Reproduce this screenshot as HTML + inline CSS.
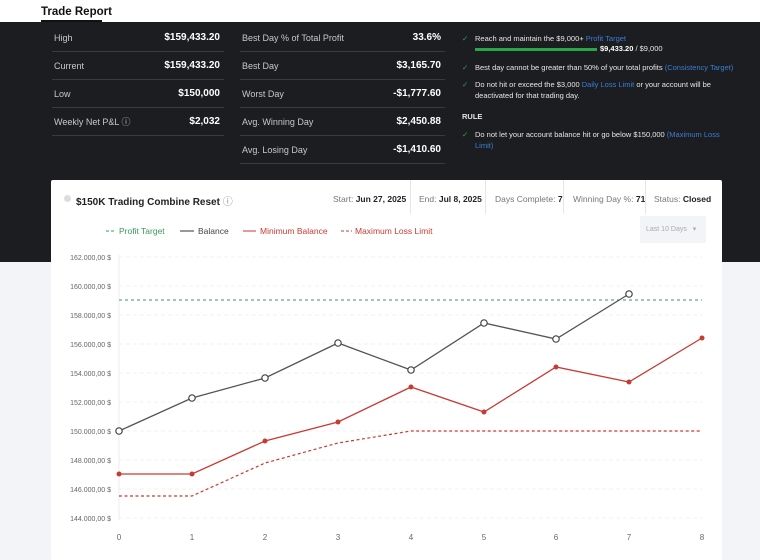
<!DOCTYPE html>
<html><head><style>
*{margin:0;padding:0;box-sizing:border-box}
body{width:760px;height:552px;overflow:hidden;background:#f3f4f8;font-family:"Liberation Sans",sans-serif;position:relative}
.top{position:absolute;left:0;top:0;width:760px;height:22px;background:#fff}
.tab{position:absolute;left:41px;top:6px;font-size:11.5px;font-weight:bold;color:#111}
.tabline{position:absolute;left:41px;top:20px;width:61px;height:2px;background:#111}
.dark{position:absolute;left:0;top:22px;width:760px;height:240px;background:#1c1d20}
.row{position:absolute;height:28px;border-bottom:1px solid #3a3b3f;font-size:9px;color:#c8c8c8;display:flex;align-items:center;justify-content:space-between;padding:0 4px 0 2px}
.row b{color:#fff;font-size:10px}
.r{position:absolute;left:462px;font-size:7.5px;color:#e6e6e6;line-height:11px}
.r i{position:absolute;left:0;font-style:normal;color:#2ea84f}
.r div{margin-left:13px}
.l{color:#3a7ed3}
.card{position:absolute;left:51px;top:180px;width:671px;height:380px;background:#fff;border-radius:2px}
.hd{position:absolute;top:14px;font-size:8.5px;color:#777}
.hd b{color:#222}
.sep{position:absolute;top:0;width:1px;height:34px;background:#e6e6e6}
</style></head><body>
<div class="top"></div><div class="tab">Trade Report</div><div class="tabline"></div>
<div class="dark">
<div class="row" style="left:52px;top:2px;width:172px"><span>High</span><b>$159,433.20</b></div>
<div class="row" style="left:52px;top:30px;width:172px"><span>Current</span><b>$159,433.20</b></div>
<div class="row" style="left:52px;top:58px;width:172px"><span>Low</span><b>$150,000</b></div>
<div class="row" style="left:52px;top:86px;width:172px"><span>Weekly Net P&amp;L ⓘ</span><b>$2,032</b></div>
<div class="row" style="left:240px;top:2px;width:205px"><span>Best Day % of Total Profit</span><b>33.6%</b></div>
<div class="row" style="left:240px;top:30px;width:205px"><span>Best Day</span><b>$3,165.70</b></div>
<div class="row" style="left:240px;top:58px;width:205px"><span>Worst Day</span><b>-$1,777.60</b></div>
<div class="row" style="left:240px;top:86px;width:205px"><span>Avg. Winning Day</span><b>$2,450.88</b></div>
<div class="row" style="left:240px;top:114px;width:205px"><span>Avg. Losing Day</span><b>-$1,410.60</b></div>
<div class="r" style="top:11px"><i>✓</i><div>Reach and maintain the $9,000+ <span class="l">Profit Target</span></div></div>
<div style="position:absolute;left:475px;top:26px;width:122px;height:3px;background:#27a745"></div>
<div class="r" style="top:21px;left:600px;font-size:7.5px"><b style="color:#fff">$9,433.20</b> / $9,000</div>
<div class="r" style="top:40px"><i>✓</i><div>Best day cannot be greater than 50% of your total profits <span class="l">(Consistency Target)</span></div></div>
<div class="r" style="top:57px"><i>✓</i><div>Do not hit or exceed the $3,000 <span class="l">Daily Loss Limit</span> or your account will be<br>deactivated for that trading day.</div></div>
<div class="r" style="top:89px;font-weight:bold">RULE</div>
<div class="r" style="top:107px"><i>✓</i><div>Do not let your account balance hit or go below $150,000 <span class="l">(Maximum Loss<br>Limit)</span></div></div>
</div>
<div class="card">
<div style="position:absolute;left:13px;top:15px;width:7px;height:7px;border-radius:50%;background:#ddd"></div>
<div style="position:absolute;left:25px;top:13px;font-size:10px;font-weight:bold;color:#222">$150K Trading Combine Reset <span style="font-weight:normal;color:#888">ⓘ</span></div>
<div class="hd" style="left:282px">Start: <b>Jun 27, 2025</b></div>
<div class="sep" style="left:359px"></div>
<div class="hd" style="left:368px">End: <b>Jul 8, 2025</b></div>
<div class="sep" style="left:434px"></div>
<div class="hd" style="left:444px">Days Complete: <b>7</b></div>
<div class="sep" style="left:512px"></div>
<div class="hd" style="left:522px">Winning Day %: <b>71</b></div>
<div class="sep" style="left:594px"></div>
<div class="hd" style="left:603px">Status: <b>Closed</b></div>
<div style="position:absolute;left:589px;top:36px;width:66px;height:27px;background:#f3f4f7;font-size:7px;color:#aaa;padding:9px 0 0 6px">Last 10 Days &nbsp; ▾</div>
</div>
<svg width="760" height="552" style="position:absolute;left:0;top:0" font-family="Liberation Sans, sans-serif">
<g font-size="8.5">
<line x1="106" y1="231" x2="116" y2="231" stroke="#3a9a5a" stroke-dasharray="3,2"/><text x="119" y="234" fill="#3a9a5a">Profit Target</text>
<line x1="180" y1="231" x2="194" y2="231" stroke="#333"/><text x="198" y="234" fill="#444">Balance</text>
<line x1="243" y1="231" x2="256" y2="231" stroke="#c83a32"/><text x="260" y="234" fill="#c83a32">Minimum Balance</text>
<line x1="341" y1="231" x2="352" y2="231" stroke="#c83a32" stroke-dasharray="3,2"/><text x="355" y="234" fill="#c83a32">Maximum Loss Limit</text>
</g>
<g stroke="#f0f0f0" stroke-dasharray="4,3">
<line x1="119" y1="257" x2="702" y2="257"/><line x1="119" y1="286" x2="702" y2="286"/><line x1="119" y1="315" x2="702" y2="315"/><line x1="119" y1="344" x2="702" y2="344"/><line x1="119" y1="373" x2="702" y2="373"/><line x1="119" y1="402" x2="702" y2="402"/><line x1="119" y1="431" x2="702" y2="431"/><line x1="119" y1="460" x2="702" y2="460"/><line x1="119" y1="489" x2="702" y2="489"/><line x1="119" y1="518" x2="702" y2="518"/>
</g>
<line x1="119" y1="255" x2="119" y2="520" stroke="#eee"/>
<g font-size="7" fill="#666" text-anchor="end">
<text x="111" y="260">162.000,00 $</text><text x="111" y="289">160.000,00 $</text><text x="111" y="318">158.000,00 $</text><text x="111" y="347">156.000,00 $</text><text x="111" y="376">154.000,00 $</text><text x="111" y="405">152.000,00 $</text><text x="111" y="434">150.000,00 $</text><text x="111" y="463">148.000,00 $</text><text x="111" y="492">146.000,00 $</text><text x="111" y="521">144.000,00 $</text>
</g>
<g font-size="8" fill="#666" text-anchor="middle">
<text x="119" y="540">0</text><text x="192" y="540">1</text><text x="265" y="540">2</text><text x="338" y="540">3</text><text x="411" y="540">4</text><text x="484" y="540">5</text><text x="556" y="540">6</text><text x="629" y="540">7</text><text x="702" y="540">8</text>
</g>
<line x1="119" y1="300" x2="702" y2="300" stroke="#3a9a5a" stroke-dasharray="3,3"/>
<polyline fill="none" stroke="#c83a32" stroke-width="1.2" stroke-dasharray="3,2.5" points="119,496 192,496 265,463 338,443 411,431 484,431 556,431 629,431 702,431"/>
<polyline fill="none" stroke="#c83a32" stroke-width="1.3" points="119,474 192,474 265,441 338,422 411,387 484,412 556,367 629,382 702,338"/>
<g fill="#c83a32"><circle cx="119" cy="474" r="2.5"/><circle cx="192" cy="474" r="2.5"/><circle cx="265" cy="441" r="2.5"/><circle cx="338" cy="422" r="2.5"/><circle cx="411" cy="387" r="2.5"/><circle cx="484" cy="412" r="2.5"/><circle cx="556" cy="367" r="2.5"/><circle cx="629" cy="382" r="2.5"/><circle cx="702" cy="338" r="2.5"/></g>
<polyline fill="none" stroke="#555" stroke-width="1.3" points="119,431 192,398 265,378 338,343 411,370 484,323 556,339 629,294"/>
<g fill="#fff" stroke="#444" stroke-width="1.2"><circle cx="119" cy="431" r="3.2"/><circle cx="192" cy="398" r="3.2"/><circle cx="265" cy="378" r="3.2"/><circle cx="338" cy="343" r="3.2"/><circle cx="411" cy="370" r="3.2"/><circle cx="484" cy="323" r="3.2"/><circle cx="556" cy="339" r="3.2"/><circle cx="629" cy="294" r="3.2"/></g>
</svg>
</body></html>
